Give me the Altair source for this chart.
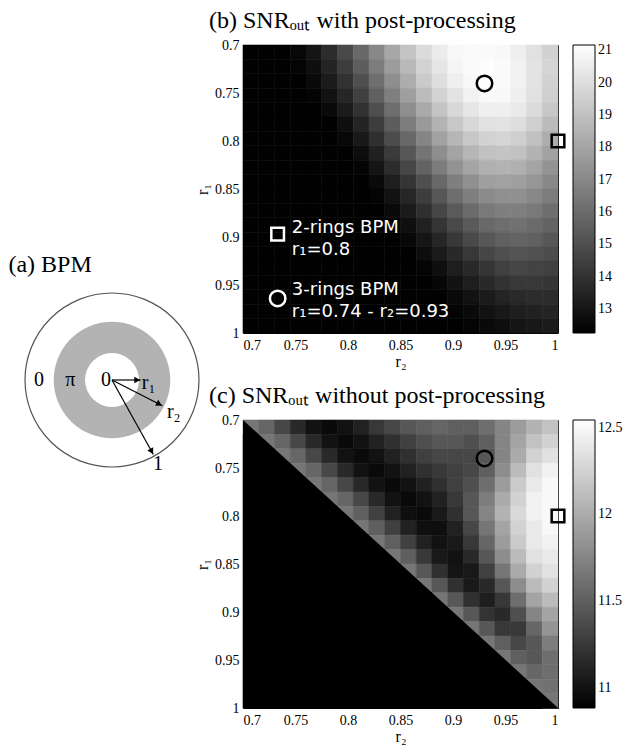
import altair as alt
import pandas as pd

# ---------------- data ----------------
r_edges = [0.700, 0.715, 0.730, 0.745, 0.760, 0.775, 0.790, 0.805, 0.820, 0.835,
           0.850, 0.865, 0.880, 0.895, 0.910, 0.925, 0.940, 0.955, 0.970, 0.985, 1.000]

# (b) SNR_out with post-processing  (rows: r1 from 0.7 to 1, cols: r2 from 0.7 to 1)
snr_post = [
    [12.3, 12.3, 12.3, 12.5, 13.0, 13.8, 14.8, 15.9, 17.0, 18.1, 19.1, 19.9, 20.5, 20.9, 21.0, 21.0, 20.9, 20.6, 20.1, 19.6],
    [12.3, 12.3, 12.3, 12.4, 12.8, 13.5, 14.4, 15.5, 16.6, 17.7, 18.7, 19.6, 20.3, 20.8, 21.0, 21.1, 21.0, 20.7, 20.2, 19.7],
    [12.3, 12.3, 12.3, 12.3, 12.6, 13.2, 14.0, 15.0, 16.1, 17.2, 18.3, 19.3, 20.0, 20.6, 20.9, 21.1, 21.0, 20.7, 20.2, 19.6],
    [12.3, 12.3, 12.3, 12.3, 12.4, 12.9, 13.6, 14.5, 15.6, 16.7, 17.8, 18.8, 19.6, 20.2, 20.7, 20.9, 20.9, 20.6, 20.1, 19.5],
    [12.3, 12.3, 12.3, 12.3, 12.3, 12.6, 13.2, 14.0, 15.0, 16.1, 17.2, 18.2, 19.1, 19.8, 20.3, 20.6, 20.6, 20.4, 19.9, 19.2],
    [12.3, 12.3, 12.3, 12.3, 12.3, 12.3, 12.8, 13.5, 14.4, 15.5, 16.6, 17.6, 18.5, 19.2, 19.8, 20.1, 20.2, 20.0, 19.5, 18.8],
    [12.3, 12.3, 12.3, 12.3, 12.3, 12.3, 12.5, 13.1, 13.9, 14.9, 15.9, 16.9, 17.9, 18.6, 19.2, 19.6, 19.7, 19.5, 19.0, 18.3],
    [12.3, 12.3, 12.3, 12.3, 12.3, 12.3, 12.3, 12.7, 13.4, 14.3, 15.3, 16.3, 17.2, 18.0, 18.6, 19.0, 19.1, 19.0, 18.5, 17.9],
    [12.3, 12.3, 12.3, 12.3, 12.3, 12.3, 12.3, 12.4, 13.0, 13.8, 14.7, 15.7, 16.6, 17.4, 18.0, 18.4, 18.5, 18.4, 18.0, 17.4],
    [12.3, 12.3, 12.3, 12.3, 12.3, 12.3, 12.3, 12.3, 12.6, 13.3, 14.1, 15.0, 15.9, 16.7, 17.3, 17.8, 17.9, 17.8, 17.5, 17.0],
    [12.3, 12.3, 12.3, 12.3, 12.3, 12.3, 12.3, 12.3, 12.4, 12.9, 13.6, 14.4, 15.3, 16.1, 16.7, 17.1, 17.3, 17.3, 17.0, 16.6],
    [12.3, 12.3, 12.3, 12.3, 12.3, 12.3, 12.3, 12.3, 12.3, 12.6, 13.2, 13.9, 14.7, 15.4, 16.0, 16.5, 16.7, 16.7, 16.5, 16.1],
    [12.3, 12.3, 12.3, 12.3, 12.3, 12.3, 12.3, 12.3, 12.3, 12.4, 12.8, 13.4, 14.1, 14.8, 15.4, 15.9, 16.1, 16.2, 16.0, 15.7],
    [12.3, 12.3, 12.3, 12.3, 12.3, 12.3, 12.3, 12.3, 12.3, 12.3, 12.5, 13.0, 13.6, 14.2, 14.8, 15.3, 15.6, 15.7, 15.6, 15.3],
    [12.3, 12.3, 12.3, 12.3, 12.3, 12.3, 12.3, 12.3, 12.3, 12.3, 12.3, 12.7, 13.2, 13.7, 14.2, 14.7, 15.0, 15.2, 15.1, 14.9],
    [12.3, 12.3, 12.3, 12.3, 12.3, 12.3, 12.3, 12.3, 12.3, 12.3, 12.3, 12.4, 12.8, 13.3, 13.7, 14.1, 14.5, 14.7, 14.6, 14.5],
    [12.3, 12.3, 12.3, 12.3, 12.3, 12.3, 12.3, 12.3, 12.3, 12.3, 12.3, 12.3, 12.5, 12.9, 13.3, 13.7, 14.0, 14.2, 14.2, 14.1],
    [12.3, 12.3, 12.3, 12.3, 12.3, 12.3, 12.3, 12.3, 12.3, 12.3, 12.3, 12.3, 12.3, 12.6, 12.9, 13.2, 13.5, 13.7, 13.8, 13.8],
    [12.3, 12.3, 12.3, 12.3, 12.3, 12.3, 12.3, 12.3, 12.3, 12.3, 12.3, 12.3, 12.3, 12.4, 12.6, 12.9, 13.1, 13.3, 13.4, 13.5],
    [12.3, 12.3, 12.3, 12.3, 12.3, 12.3, 12.3, 12.3, 12.3, 12.3, 12.3, 12.3, 12.3, 12.3, 12.4, 12.6, 12.8, 13.0, 13.1, 13.2],
]

# (c) SNR_out without post-processing (r1 > r2 is not a valid design: black)
snr_nopost = [
    [11.65, 11.55, 11.35, 11.15, 11.0, 10.95, 11.0, 11.1, 11.25, 11.35, 11.45, 11.5, 11.55, 11.5, 11.5, 11.6, 11.75, 11.9, 12.05, 12.15],
    [10.9, 11.65, 11.55, 11.35, 11.15, 11.0, 10.95, 11.0, 11.1, 11.2, 11.3, 11.4, 11.45, 11.45, 11.4, 11.5, 11.75, 11.95, 12.15, 12.25],
    [10.9, 10.9, 11.65, 11.55, 11.35, 11.15, 11.0, 10.95, 11.0, 11.1, 11.2, 11.3, 11.35, 11.35, 11.35, 11.45, 11.75, 12.0, 12.25, 12.35],
    [10.9, 10.9, 10.9, 11.65, 11.55, 11.35, 11.15, 11.0, 10.95, 11.0, 11.1, 11.2, 11.25, 11.3, 11.35, 11.5, 11.8, 12.1, 12.35, 12.45],
    [10.9, 10.9, 10.9, 10.9, 11.65, 11.55, 11.35, 11.15, 11.0, 10.95, 11.0, 11.1, 11.2, 11.3, 11.4, 11.6, 11.9, 12.2, 12.4, 12.5],
    [10.9, 10.9, 10.9, 10.9, 10.9, 11.65, 11.55, 11.35, 11.15, 11.0, 10.95, 11.0, 11.1, 11.25, 11.45, 11.7, 12.0, 12.25, 12.45, 12.5],
    [10.9, 10.9, 10.9, 10.9, 10.9, 10.9, 11.65, 11.5, 11.3, 11.1, 10.98, 10.95, 11.05, 11.2, 11.45, 11.75, 12.05, 12.3, 12.45, 12.5],
    [10.9, 10.9, 10.9, 10.9, 10.9, 10.9, 10.9, 11.65, 11.5, 11.3, 11.1, 10.98, 10.98, 11.1, 11.35, 11.65, 11.95, 12.25, 12.4, 12.5],
    [10.9, 10.9, 10.9, 10.9, 10.9, 10.9, 10.9, 10.9, 11.65, 11.5, 11.3, 11.1, 11.0, 11.05, 11.25, 11.55, 11.9, 12.2, 12.4, 12.45],
    [10.9, 10.9, 10.9, 10.9, 10.9, 10.9, 10.9, 10.9, 10.9, 11.65, 11.5, 11.25, 11.05, 11.0, 11.15, 11.45, 11.8, 12.1, 12.35, 12.4],
    [10.9, 10.9, 10.9, 10.9, 10.9, 10.9, 10.9, 10.9, 10.9, 10.9, 11.65, 11.45, 11.2, 11.02, 11.05, 11.3, 11.65, 12.0, 12.25, 12.35],
    [10.9, 10.9, 10.9, 10.9, 10.9, 10.9, 10.9, 10.9, 10.9, 10.9, 10.9, 11.65, 11.45, 11.2, 11.05, 11.15, 11.45, 11.8, 12.1, 12.25],
    [10.9, 10.9, 10.9, 10.9, 10.9, 10.9, 10.9, 10.9, 10.9, 10.9, 10.9, 10.9, 11.65, 11.45, 11.2, 11.08, 11.25, 11.6, 11.95, 12.1],
    [10.9, 10.9, 10.9, 10.9, 10.9, 10.9, 10.9, 10.9, 10.9, 10.9, 10.9, 10.9, 10.9, 11.65, 11.45, 11.22, 11.15, 11.4, 11.75, 11.95],
    [10.9, 10.9, 10.9, 10.9, 10.9, 10.9, 10.9, 10.9, 10.9, 10.9, 10.9, 10.9, 10.9, 10.9, 11.65, 11.45, 11.25, 11.25, 11.55, 11.85],
    [10.9, 10.9, 10.9, 10.9, 10.9, 10.9, 10.9, 10.9, 10.9, 10.9, 10.9, 10.9, 10.9, 10.9, 10.9, 11.65, 11.5, 11.35, 11.45, 11.7],
    [10.9, 10.9, 10.9, 10.9, 10.9, 10.9, 10.9, 10.9, 10.9, 10.9, 10.9, 10.9, 10.9, 10.9, 10.9, 10.9, 11.65, 11.5, 11.45, 11.6],
    [10.9, 10.9, 10.9, 10.9, 10.9, 10.9, 10.9, 10.9, 10.9, 10.9, 10.9, 10.9, 10.9, 10.9, 10.9, 10.9, 10.9, 11.65, 11.55, 11.6],
    [10.9, 10.9, 10.9, 10.9, 10.9, 10.9, 10.9, 10.9, 10.9, 10.9, 10.9, 10.9, 10.9, 10.9, 10.9, 10.9, 10.9, 10.9, 11.65, 11.62],
    [10.9, 10.9, 10.9, 10.9, 10.9, 10.9, 10.9, 10.9, 10.9, 10.9, 10.9, 10.9, 10.9, 10.9, 10.9, 10.9, 10.9, 10.9, 10.9, 11.65],
]

tick_vals = [0.7, 0.75, 0.8, 0.85, 0.9, 0.95, 1.0]
cbar_post_ticks = [13, 14, 15, 16, 17, 18, 19, 20, 21]
cbar_nopost_ticks = [11, 11.5, 12, 12.5]
post_range = [12.26, 21.16]
nopost_range = [10.885, 12.544]

bpm_kind = ["3-rings BPM", "2-rings BPM"]
bpm_r2 = [0.93, 1.0]
bpm_r1 = [0.74, 0.8]
bpm_text = ["3-rings BPM\nr\u2081=0.74 - r\u2082=0.93", "2-rings BPM\nr\u2081=0.8"]

diag_r2 = [0.7, 1.0]

# schematic of the BPM (a)
ring_radius = [1.0, 0.67, 0.31]
ring_phase = ["0", "\u03c0", "0"]
arrow_label = ["r\u2081", "r\u2082", "1"]
arrow_len = [0.33, 0.65, 0.98]
arrow_deg = [0, 27, 61]

# ---------------- annotation placement ----------------
key_marker_r2 = [0.733, 0.733]
key_marker_r1 = [0.964, 0.897]
key_text_r2 = [0.7465, 0.7465]
key_text_r1 = [0.9555, 0.8905]
phase_x = [-0.84, -0.48, -0.07]
phase_y = [0.0, 0.0, 0.0]
arrow_label_x = [0.42, 0.71, 0.53]
arrow_label_y = [-0.03, -0.37, -0.97]

SERIF = "Liberation Serif"
PW, PH, GAP = 315, 288, 87  # plot area of (b) and (c), gap between them


def cells(grid):
    rows = []
    for i in range(len(r_edges) - 1):
        for j in range(len(r_edges) - 1):
            rows.append({"r2a": r_edges[j], "r2b": r_edges[j + 1],
                         "r1a": r_edges[i], "r1b": r_edges[i + 1],
                         "snr": grid[i][j]})
    return pd.DataFrame(rows)


xs = alt.Scale(domain=[0.7, 1.0], nice=False, zero=False)
ys = alt.Scale(domain=[0.7, 1.0], nice=False, zero=False, reverse=True)
ax_x = alt.Axis(values=tick_vals, format="~g", title="r\u2082", labelPadding=5, titlePadding=1)
ax_y = alt.Axis(values=tick_vals, format="~g", title="r\u2081", labelPadding=4, titlePadding=4)


def X(f):
    return alt.X(f, type="quantitative", scale=xs, axis=ax_x)


def Y(f):
    return alt.Y(f, type="quantitative", scale=ys, axis=ax_y)


bpm_df = pd.DataFrame({"kind": bpm_kind, "r2": bpm_r2, "r1": bpm_r1})
key_df = pd.DataFrame({"kind": bpm_kind, "text": bpm_text,
                       "mr2": key_marker_r2, "mr1": key_marker_r1,
                       "tr2": key_text_r2, "tr1": key_text_r1})


def panel(grid, rng, ticks, title, with_key, triangle):
    cs = alt.Scale(domain=rng, range=["#000000", "#ffffff"], interpolate="rgb", clamp=True)
    lo, hi = rng
    # outline each cell with its own grey so neighbouring cells leave no seams
    grey = f"round(255*clamp((datum.snr-({lo}))/({hi - lo}),0,1))"
    heat = alt.Chart(cells(grid)).transform_calculate(
        edge=f"'rgb(' + {grey} + ',' + {grey} + ',' + {grey} + ')'"
    ).mark_rect(strokeWidth=0.6).encode(
        x=X("r2a"), x2="r2b", y=Y("r1a"), y2="r1b",
        color=alt.Color("snr:Q", scale=cs, legend=alt.Legend(
            type="gradient", title=None, values=ticks, format="~g", orient="right", offset=15,
            direction="vertical", gradientLength=PH, gradientThickness=22,
            gradientStrokeColor="black", gradientStrokeWidth=1, labelOffset=3,
            labelOverlap=False, padding=0)),
        stroke=alt.Stroke("edge:N", scale=None),
    )
    layers = [heat]
    if triangle:
        tri_df = pd.DataFrame({"r2": diag_r2, "r1": diag_r2, "r1_end": [1.0, 1.0]})
        layers.append(alt.Chart(tri_df).mark_area(color="black", opacity=1, interpolate="linear").encode(
            x=X("r2"), y=Y("r1"), y2="r1_end"))
    circ = alt.Chart(bpm_df).transform_filter(alt.datum.kind == "3-rings BPM").mark_point(
        shape="circle", size=240, strokeWidth=2.5, color="black", filled=False, opacity=1
    ).encode(x=X("r2"), y=Y("r1"))
    sq = alt.Chart(bpm_df).transform_filter(alt.datum.kind == "2-rings BPM").mark_point(
        shape="square", size=160, strokeWidth=2.5, color="black", filled=False, opacity=1
    ).encode(x=X("r2"), y=Y("r1"))
    layers += [circ, sq]
    if with_key:
        kc = alt.Chart(key_df).transform_filter(alt.datum.kind == "3-rings BPM").mark_point(
            shape="circle", size=240, strokeWidth=2.5, color="white", filled=False, opacity=1
        ).encode(x=X("mr2"), y=Y("mr1"))
        ks = alt.Chart(key_df).transform_filter(alt.datum.kind == "2-rings BPM").mark_point(
            shape="square", size=160, strokeWidth=2.5, color="white", filled=False, opacity=1
        ).encode(x=X("mr2"), y=Y("mr1"))
        kt = alt.Chart(key_df).mark_text(
            align="left", baseline="middle", lineBreak="\n", font="DejaVu Sans",
            fontSize=18, color="white", lineHeight=22
        ).encode(x=X("tr2"), y=Y("tr1"), text="text:N")
        layers += [kc, ks, kt]
    return alt.layer(*layers).properties(
        width=PW, height=PH,
        title=alt.TitleParams(title, anchor="start", frame="group", dx=-34, offset=5,
                              font=SERIF, fontSize=24, fontWeight="normal", color="black"),
    )


B = panel(snr_post, post_range, cbar_post_ticks,
          "(b) SNR\u2092\u1d64\u209c with post-processing", True, False)
C = panel(snr_nopost, nopost_range, cbar_nopost_ticks,
          "(c) SNR\u2092\u1d64\u209c without post-processing", False, True)

# ---------------- (a) schematic ----------------
AW, AH = 235, 2 * PH + GAP
axs = alt.Scale(domain=[-104 / 87, (AW - 104) / 87], nice=False, zero=False)
ays = alt.Scale(domain=[-(AH - 335) / 87, 335 / 87], nice=False, zero=False)
ring_df = pd.DataFrame({"radius": ring_radius, "phase": ring_phase,
                        "k": [0, 1, 2], "cx": [0.0] * 3, "cy": [0.0] * 3})
size_scale = alt.Scale(type="pow", exponent=2, domain=[0, 1], range=[0, 174 ** 2])
AX = lambda f: alt.X(f, type="quantitative", scale=axs, axis=None)
AY = lambda f: alt.Y(f, type="quantitative", scale=ays, axis=None)

rings = alt.Chart(ring_df).mark_point(shape="circle", filled=True, opacity=1, strokeWidth=0).encode(
    x=AX("cx"), y=AY("cy"),
    size=alt.Size("radius:Q", scale=size_scale, legend=None),
    color=alt.Color("phase:N", scale=alt.Scale(domain=["0", "\u03c0"], range=["#ffffff", "#b3b3b3"]), legend=None),
    order=alt.Order("k:O"),
)
outline = alt.Chart(ring_df).transform_filter(alt.datum.k == 0).mark_point(
    shape="circle", filled=False, color="#555555", strokeWidth=1.2, opacity=1).encode(
    x=AX("cx"), y=AY("cy"), size=alt.Size("radius:Q", scale=size_scale, legend=None))

arrow_df = pd.DataFrame({"label": arrow_label, "len": arrow_len, "deg": arrow_deg,
                         "ox": [0.0] * 3, "oy": [0.0] * 3})
arrow_base = alt.Chart(arrow_df).transform_calculate(
    ex="datum.len*cos(datum.deg*PI/180)", ey="-datum.len*sin(datum.deg*PI/180)",
    hx="(datum.len-0.04)*cos(datum.deg*PI/180)", hy="-(datum.len-0.04)*sin(datum.deg*PI/180)")
shafts = arrow_base.mark_rule(color="black", strokeWidth=1.2).encode(
    x=AX("ox"), y=AY("oy"), x2="ex:Q", y2="ey:Q")
heads = arrow_base.mark_point(shape="triangle-right", filled=True, color="black", size=45, opacity=1).encode(
    x=AX("hx"), y=AY("hy"), angle=alt.Angle("deg:Q", scale=None))

phase_df = pd.DataFrame({"t": ring_phase, "x": phase_x, "y": phase_y})
phase_txt = alt.Chart(phase_df).mark_text(font=SERIF, fontSize=20, color="black").encode(
    x=AX("x"), y=AY("y"), text="t:N")
alab_df = pd.DataFrame({"t": arrow_label, "x": arrow_label_x, "y": arrow_label_y})
alab_txt = alt.Chart(alab_df).mark_text(font=SERIF, fontSize=20, color="black").encode(
    x=AX("x"), y=AY("y"), text="t:N")
a_title = alt.Chart(pd.DataFrame({"t": ["(a) BPM"], "x": [-1.19], "y": [1.32]})).mark_text(
    font=SERIF, fontSize=24, color="black", align="left", baseline="middle").encode(
    x=AX("x"), y=AY("y"), text="t:N")

A = alt.layer(rings, outline, shafts, heads, phase_txt, alab_txt, a_title).properties(
    width=AW, height=AH, view=alt.ViewBackground(strokeOpacity=0))

right = alt.vconcat(B, C, spacing=GAP, bounds="flush").resolve_scale(
    color="independent", x="independent", y="independent")

chart = alt.hconcat(A, right, spacing=0, bounds="flush", padding=0).resolve_scale(
    color="independent", size="independent", x="independent", y="independent"
).configure_axis(
    labelFont=SERIF, labelFontSize=14, labelColor="black",
    titleFont=SERIF, titleFontSize=16, titleFontWeight="normal", titleColor="black",
    ticks=False, tickSize=0, domain=False, grid=False,
).configure_legend(
    labelFont=SERIF, labelFontSize=14, labelColor="black",
).configure_view(stroke="black", strokeWidth=1)

chart.save("out.html", embed_options={"renderer": "svg", "actions": False})
